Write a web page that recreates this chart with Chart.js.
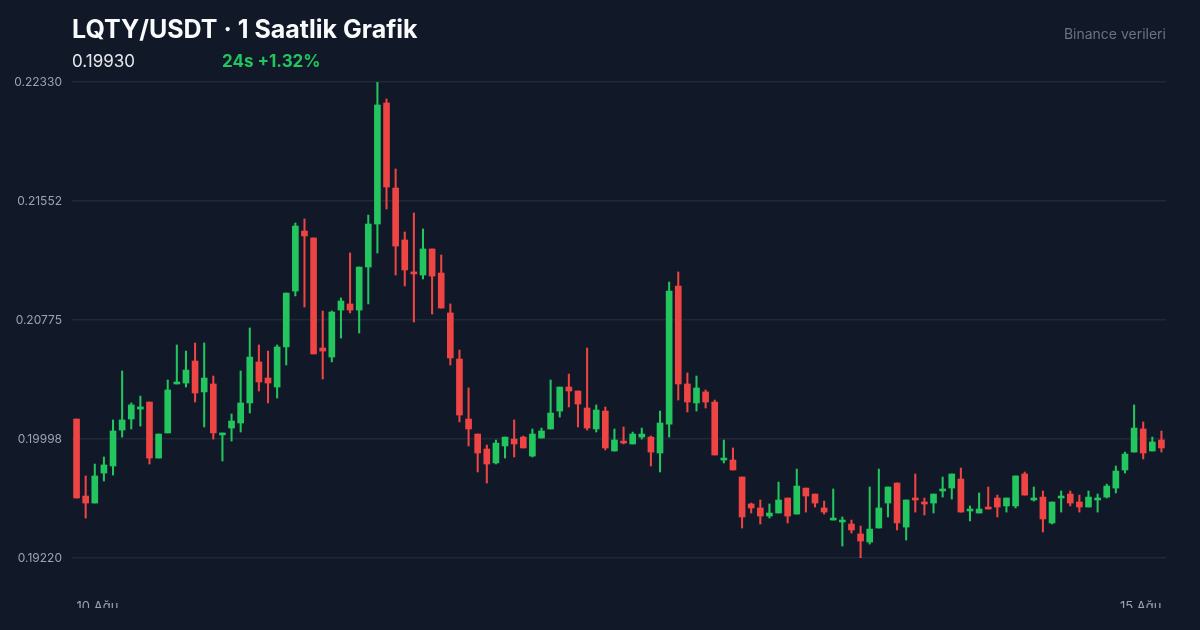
<!DOCTYPE html>
<html>
<head>
<meta charset="utf-8">
<script src="https://cdn.jsdelivr.net/npm/chart.js@4"></script>
<style>
  body { margin: 0; background: #111827; font-family: "Inter", "Noto Sans", sans-serif; }
  #wrap { position: relative; width: 1200px; height: 630px; overflow: hidden; }
  #title { position: absolute; left: 72px; top: 14px; color: #f9fafb; font-size: 25px; font-weight: 700; }
  #price { position: absolute; left: 72px; top: 51px; color: #e5e7eb; font-size: 17px; }
  #change { position: absolute; left: 222px; top: 51px; color: #22c55e; font-size: 17px; font-weight: 700; }
  #source { position: absolute; right: 34px; top: 25px; color: #6b7280; font-size: 14px; }
  canvas { position: absolute; left: 0; top: 0; }
</style>
</head>
<body>
<div id="wrap">
  <canvas id="chart" width="1200" height="630"></canvas>
  <div id="title">LQTY/USDT · 1 Saatlik Grafik</div>
  <div id="price">0.19930</div>
  <div id="change">24s +1.32%</div>
  <div id="source">Binance verileri</div>
</div>
<script>
const $ = id => document.getElementById(id);

// hourly candles, 10 Ağu -> 15 Ağu
const opens = [
  0.20128,0.19625,0.19579,0.19775,0.19821,0.20056,0.20128,0.20193,0.20239,0.19873,
  0.20037,0.20357,0.20363,0.20507,0.20305,0.20357,0.20024,0.20069,0.20102,0.20233,
  0.20501,0.20396,0.20337,0.20599,0.20964,0.21356,0.21311,0.20592,0.20533,0.20840,
  0.20880,0.20840,0.21121,0.21402,0.22193,0.21637,0.21298,0.21089,0.21069,0.21239,
  0.21082,0.20821,0.20520,0.20128,0.20030,0.19932,0.19841,0.19952,0.19997,0.20010,
  0.19886,0.20004,0.20063,0.20180,0.20337,0.20311,0.20200,0.20063,0.20180,0.19919,
  0.19978,0.19965,0.20010,0.20010,0.19906,0.20095,0.20997,0.20357,0.20233,0.20305,
  0.20239,0.19860,0.19860,0.19749,0.19573,0.19547,0.19494,0.19514,0.19612,0.19507,
  0.19677,0.19638,0.19547,0.19468,0.19455,0.19442,0.19377,0.19324,0.19416,0.19579,
  0.19710,0.19422,0.19612,0.19586,0.19579,0.19658,0.19677,0.19736,0.19527,0.19514,
  0.19547,0.19612,0.19560,0.19560,0.19769,0.19599,0.19618,0.19449,0.19612,0.19638,
  0.19586,0.19553,0.19599,0.19618,0.19677,0.19795,0.19912,0.20063,0.19919,0.19991
];
const highs = [
  0.20128,0.19756,0.19834,0.19880,0.20122,0.20442,0.20233,0.20278,0.20239,0.20030,
  0.20383,0.20612,0.20572,0.20625,0.20625,0.20409,0.20037,0.20161,0.20442,0.20723,
  0.20612,0.20572,0.20612,0.20951,0.21409,0.21435,0.21311,0.20834,0.20834,0.20919,
  0.21213,0.21121,0.21461,0.22330,0.22219,0.21762,0.21350,0.21474,0.21370,0.21239,
  0.21200,0.20880,0.20579,0.20331,0.20030,0.19958,0.19991,0.20010,0.20122,0.20017,
  0.20063,0.20069,0.20383,0.20337,0.20422,0.20311,0.20592,0.20220,0.20207,0.20063,
  0.20076,0.20043,0.20069,0.20017,0.20180,0.21023,0.21089,0.20429,0.20409,0.20318,
  0.20252,0.19991,0.19939,0.19749,0.19579,0.19599,0.19573,0.19716,0.19612,0.19801,
  0.19677,0.19638,0.19592,0.19671,0.19488,0.19468,0.19429,0.19684,0.19801,0.19684,
  0.19710,0.19599,0.19769,0.19612,0.19638,0.19749,0.19769,0.19808,0.19560,0.19645,
  0.19684,0.19631,0.19612,0.19756,0.19782,0.19684,0.19658,0.19586,0.19658,0.19658,
  0.19631,0.19658,0.19638,0.19703,0.19821,0.19912,0.20220,0.20109,0.20010,0.20050
];
const lows = [
  0.19612,0.19481,0.19579,0.19723,0.19762,0.20010,0.20063,0.20082,0.19834,0.19873,
  0.20037,0.20357,0.20337,0.20239,0.20076,0.19997,0.19854,0.19984,0.20043,0.20167,
  0.20311,0.20233,0.20265,0.20481,0.20932,0.20860,0.20553,0.20389,0.20501,0.20657,
  0.20821,0.20690,0.20880,0.21213,0.21500,0.21069,0.20997,0.20762,0.21043,0.20814,
  0.20853,0.20481,0.20109,0.19952,0.19782,0.19710,0.19834,0.19873,0.19880,0.19939,
  0.19880,0.20004,0.20063,0.20141,0.20207,0.20076,0.20056,0.20043,0.19926,0.19919,
  0.19965,0.19965,0.19997,0.19821,0.19782,0.20010,0.20252,0.20174,0.20180,0.20200,
  0.19893,0.19841,0.19795,0.19416,0.19514,0.19442,0.19481,0.19514,0.19449,0.19507,
  0.19520,0.19553,0.19507,0.19468,0.19298,0.19383,0.19220,0.19311,0.19416,0.19488,
  0.19403,0.19337,0.19520,0.19501,0.19514,0.19618,0.19605,0.19520,0.19462,0.19514,
  0.19540,0.19488,0.19520,0.19547,0.19631,0.19592,0.19390,0.19442,0.19520,0.19560,
  0.19520,0.19553,0.19520,0.19612,0.19645,0.19775,0.19912,0.19867,0.19919,0.19912
];
const closes = [
  0.19612,0.19579,0.19756,0.19828,0.20050,0.20122,0.20220,0.20207,0.19873,0.20030,
  0.20318,0.20370,0.20448,0.20298,0.20396,0.20037,0.20037,0.20115,0.20233,0.20533,
  0.20370,0.20363,0.20599,0.20951,0.21389,0.21324,0.20553,0.20572,0.20827,0.20899,
  0.20840,0.21121,0.21402,0.22180,0.21644,0.21258,0.21102,0.21076,0.21239,0.21062,
  0.20853,0.20527,0.20154,0.20063,0.19906,0.19834,0.19971,0.20010,0.19965,0.19939,
  0.20030,0.20050,0.20167,0.20337,0.20311,0.20226,0.20069,0.20187,0.19939,0.19991,
  0.19971,0.20030,0.20030,0.19912,0.20102,0.20964,0.20357,0.20239,0.20331,0.20239,
  0.19893,0.19873,0.19795,0.19488,0.19547,0.19494,0.19514,0.19599,0.19494,0.19690,
  0.19625,0.19579,0.19520,0.19481,0.19468,0.19403,0.19331,0.19409,0.19547,0.19684,
  0.19449,0.19599,0.19599,0.19573,0.19638,0.19671,0.19769,0.19520,0.19540,0.19540,
  0.19540,0.19553,0.19612,0.19756,0.19631,0.19612,0.19475,0.19586,0.19618,0.19579,
  0.19553,0.19618,0.19612,0.19690,0.19788,0.19899,0.20069,0.19906,0.19978,0.19939
];
const yTicks = [0.19220, 0.19998, 0.20775, 0.21552, 0.22330];
const firstLabel = "10 Ağu";
const lastLabel = "15 Ağu";

const UP = "#22c55e", DOWN = "#ef4444";
const labels = opens.map((_, i) => i === 0 ? firstLabel : i === opens.length - 1 ? lastLabel : "");
const colors = opens.map((o, i) => closes[i] >= o ? UP : DOWN);

new Chart($("chart"), {
  type: "bar",
  data: {
    labels,
    datasets: [
      { data: opens.map((o, i) => [o, closes[i]]), backgroundColor: colors,
        barThickness: 6, minBarLength: 2, grouped: false, order: 1 },
      { data: lows.map((l, i) => [l, highs[i]]), backgroundColor: colors,
        barThickness: 1.4, grouped: false, order: 2 }
    ]
  },
  options: {
    responsive: false,
    animation: false,
    layout: { padding: { top: 82, right: 34, bottom: 22, left: 0 } },
    plugins: { legend: { display: false }, tooltip: { enabled: false } },
    scales: {
      x: {
        grid: { display: false }, border: { display: false },
        afterFit: s => { s.height = 50; },
        ticks: { autoSkip: false, maxRotation: 0, align: "inner", padding: 33,
                 color: "#9ca3af", font: { size: 13, family: "Inter" },
                 callback: (v, i) => labels[i] },
      },
      y: {
        min: yTicks[0], max: yTicks[yTicks.length - 1],
        afterBuildTicks: s => { s.ticks = yTicks.map(v => ({ value: v })); },
        afterFit: s => { s.width = 72; },
        grid: { color: "#1f2937", lineWidth: 1.5, drawTicks: false }, border: { display: false },
        ticks: { padding: 10, color: "#9ca3af", font: { size: 12, family: "Inter" },
                 callback: v => v.toFixed(5) }
      }
    }
  }
});
</script>
</body>
</html>
